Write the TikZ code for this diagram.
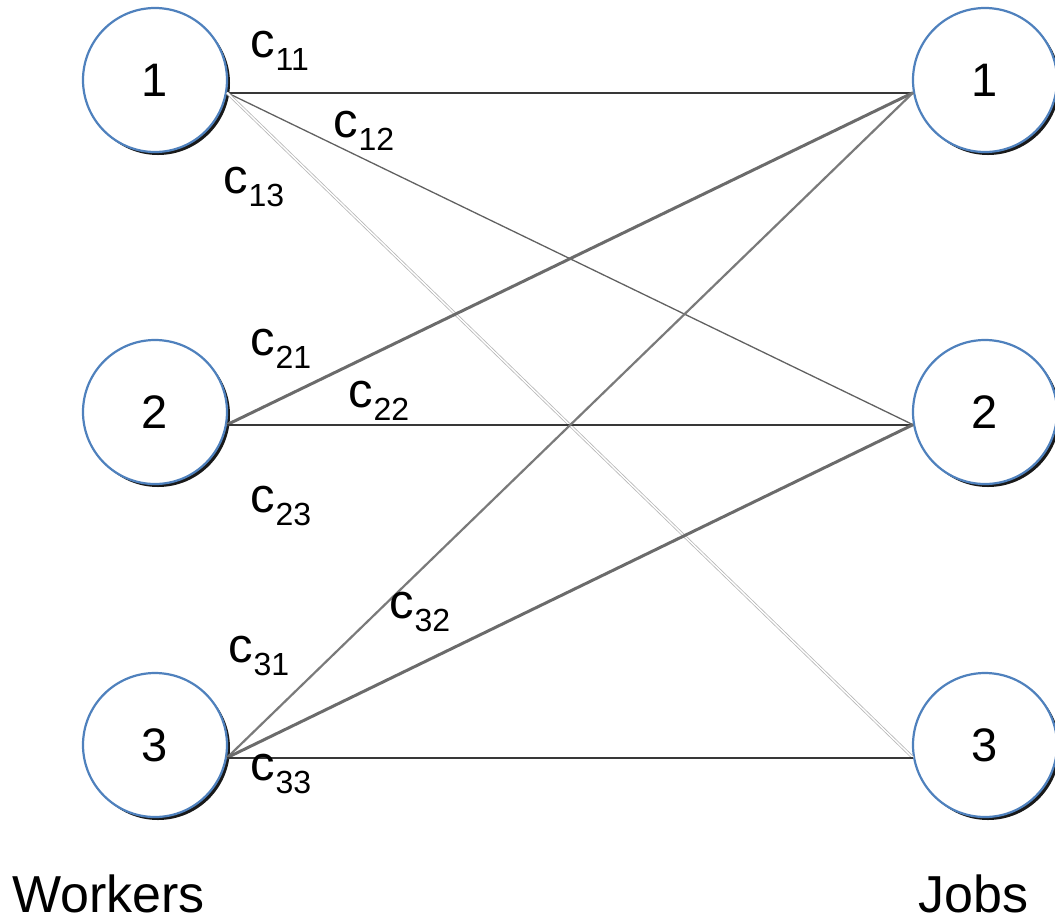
\documentclass[tikz,border=0pt]{standalone}
\usepackage{fontspec}
\setmainfont{Liberation Sans}
\usetikzlibrary{shadows}
\definecolor{nodeblue}{RGB}{79,129,189}
\newcommand{\cl}[1]{c\kern1pt\raisebox{-13pt}{\fontsize{32}{32}\selectfont #1}}
\begin{document}
\begin{tikzpicture}[x=1pt,y=-1pt,
  vertex/.style={circle,draw=nodeblue,line width=2.2pt,fill=white,inner sep=0pt,
    minimum size=144pt,font=\fontsize{47}{50}\selectfont,
    drop shadow={shadow xshift=3pt,shadow yshift=-3pt,fill=black,opacity=0.9}},
  cost/.style={anchor=base west,inner sep=0pt,font=\fontsize{49}{56}\selectfont},
  heading/.style={anchor=base west,inner sep=0pt,font=\fontsize{52}{58}\selectfont},
  edgedark/.style={draw=black!78,line width=2pt},
  edgethin/.style={draw=black!62,line width=1.3pt},
  edgelight/.style={draw=black!28,double=white,double distance=1.4pt,line width=0.8pt},
  edgethick/.style={draw=black!58,line width=3pt},
  edgemid/.style={draw=black!52,line width=2.2pt}]
\useasboundingbox (0,0) rectangle (1055,922);
\node[vertex] (L1) at (155,80) {1};
\node[vertex] (L2) at (155,412) {2};
\node[vertex] (L3) at (155,745) {3};
\node[vertex] (R1) at (985,80) {1};
\node[vertex] (R2) at (985,412) {2};
\node[vertex] (R3) at (985,745) {3};
% edges
\draw[edgedark] (L1.-10) -- (R1.190);
\draw[edgethin] (L1.-10) -- (R2.190);
\draw[edgelight] (L1.-10) -- (R3.190);
\draw[edgethick] (L2.-10) -- (R1.190);
\draw[edgedark] (L2.-10) -- (R2.190);
\draw[edgemid] (L3.-10) -- (R1.190);
\draw[edgethick] (L3.-10) -- (R2.190);
\draw[edgedark] (L3.-10) -- (R3.190);
% labels
\node[cost] (c11) at (250,57) {\cl{11}};
\node[cost] (c12) at (333,137) {\cl{12}};
\node[cost] (c13) at (223,193) {\cl{13}};
\node[cost] (c21) at (250,355) {\cl{21}};
\node[cost] (c22) at (348,407) {\cl{22}};
\node[cost] (c23) at (250,512) {\cl{23}};
\node[cost] (c31) at (228,662) {\cl{31}};
\node[cost] (c32) at (389,618) {\cl{32}};
\node[cost] (c33) at (250,780) {\cl{33}};
\node[heading] (workers) at (12,912) {Workers};
\node[heading] (jobs) at (918,912) {Jobs};
\end{tikzpicture}
\end{document}
